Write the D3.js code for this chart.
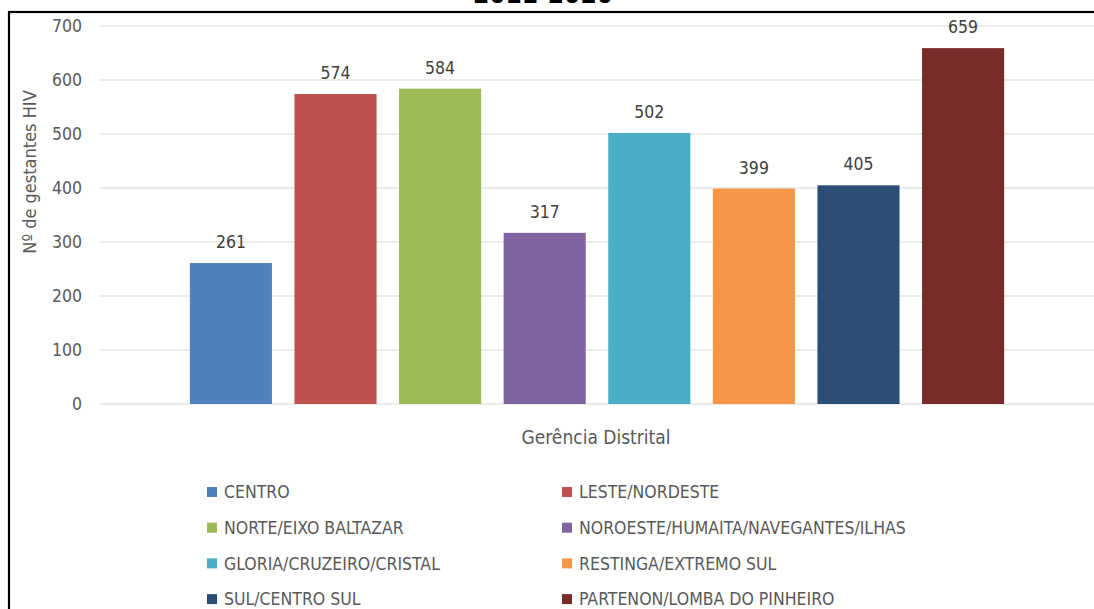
<!DOCTYPE html>
<html>
<head>
<meta charset="utf-8">
<script src="https://cdn.jsdelivr.net/npm/d3@7"></script>
<style>
  html, body { margin: 0; padding: 0; background: #fff; }
  svg { display: block; }
  text { font-family: "DejaVu Sans Condensed", "DejaVu Sans", sans-serif; }
</style>
</head>
<body>
<svg id="chart" width="1094" height="609"></svg>
<script>
const categories = ["CENTRO", "LESTE/NORDESTE", "NORTE/EIXO BALTAZAR", "NOROESTE/HUMAITA/NAVEGANTES/ILHAS",
  "GLORIA/CRUZEIRO/CRISTAL", "RESTINGA/EXTREMO SUL", "SUL/CENTRO SUL", "PARTENON/LOMBA DO PINHEIRO"];
const values = [261, 574, 584, 317, 502, 399, 405, 659];
const colors = ["#4F81BD", "#C0504D", "#9BBB59", "#8064A2", "#4BACC6", "#F79646", "#2C4D75", "#772C2A"];
const yTicks = [0, 100, 200, 300, 400, 500, 600, 700];
const titleText = "2011-2020";
const yTitle = "Nº de gestantes HIV";
const xTitle = "Gerência Distrital";

const FONT = '"DejaVu Sans Condensed", "DejaVu Sans", sans-serif';
const svg = d3.select("#chart");

// frame
svg.append("rect").attr("x", 9).attr("y", 12).attr("width", 1100).attr("height", 700)
  .attr("fill", "none").attr("stroke", "#000").attr("stroke-width", 2.2);

// title (cut off at top, as in the source)
svg.append("text").attr("x", 543).attr("y", 3).attr("text-anchor", "middle")
  .attr("font-size", 26).attr("font-weight", "bold").attr("fill", "#000").text(titleText);

const x = d3.scaleBand().domain(categories).range([100, 1094]).paddingInner(0.215).paddingOuter(0.859);
const y = d3.scaleLinear().domain([0, 700]).range([404, 26]);

// gridlines
svg.append("g").selectAll("line").data(yTicks).join("line")
  .attr("x1", 100).attr("x2", 1094)
  .attr("y1", d => y(d)).attr("y2", d => y(d))
  .attr("stroke", "#d9d9d9").attr("stroke-width", 1.2);

// y axis labels
const yAxis = d3.axisLeft(y).tickValues(yTicks).tickSize(0).tickPadding(0);
const ga = svg.append("g").attr("transform", "translate(82,0)").call(yAxis);
ga.select(".domain").remove();
ga.selectAll("text").attr("font-size", 17.5).attr("fill", "#595959").style("font-family", FONT);

// bars
svg.append("g").selectAll("rect").data(values).join("rect")
  .attr("x", (d, i) => x(categories[i]))
  .attr("width", x.bandwidth())
  .attr("y", d => y(d))
  .attr("height", d => y(0) - y(d))
  .attr("fill", (d, i) => colors[i]);

// value labels
svg.append("g").selectAll("text").data(values).join("text")
  .attr("x", (d, i) => x(categories[i]) + x.bandwidth() / 2)
  .attr("y", d => y(d) - 15)
  .attr("text-anchor", "middle")
  .attr("font-size", 17.5).attr("fill", "#404040")
  .text(d => d);

// axis titles
svg.append("text").attr("transform", "translate(36,172) rotate(-90)")
  .attr("text-anchor", "middle").attr("font-size", 18).attr("fill", "#595959").text(yTitle);
svg.append("text").attr("x", 596).attr("y", 444)
  .attr("text-anchor", "middle").attr("font-size", 19).attr("fill", "#595959").text(xTitle);

// legend
const legend = svg.append("g").selectAll("g").data(categories).join("g")
  .attr("transform", (d, i) => `translate(${i % 2 === 0 ? 207 : 562},${492 + Math.floor(i / 2) * 35.7})`);
legend.append("rect").attr("x", 0).attr("y", -5).attr("width", 10).attr("height", 10)
  .attr("fill", (d, i) => colors[i]);
legend.append("text").attr("x", 17).attr("y", 6.3).attr("font-size", 17.5).attr("fill", "#595959")
  .text(d => d);
</script>
</body>
</html>
